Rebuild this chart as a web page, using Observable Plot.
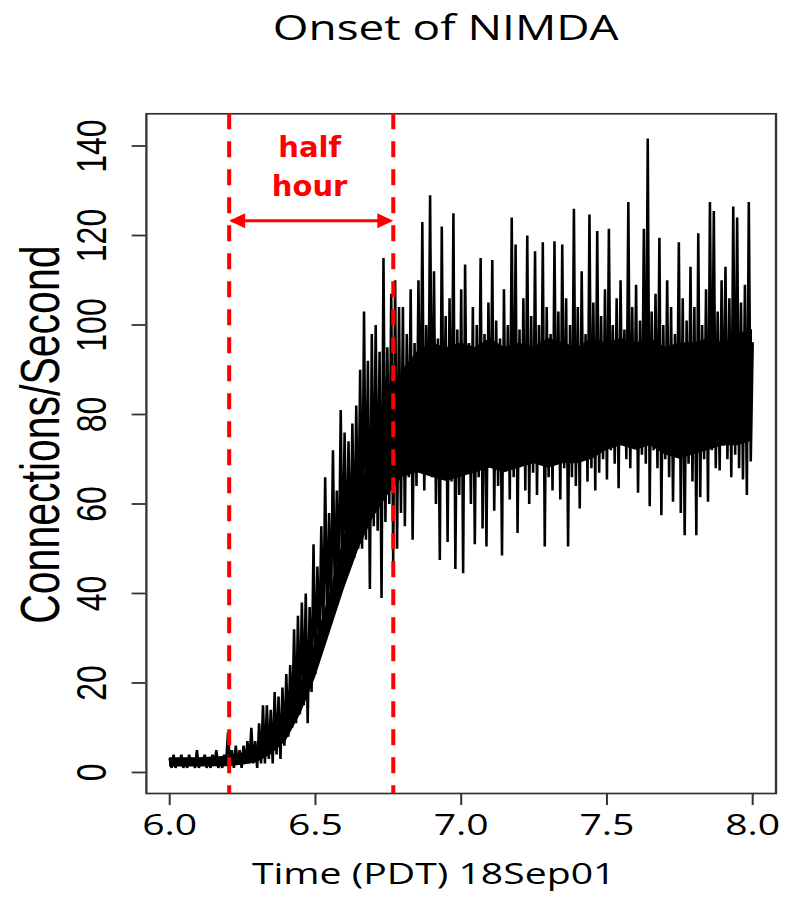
<!DOCTYPE html>
<html>
<head>
<meta charset="utf-8">
<script src="https://cdn.jsdelivr.net/npm/d3@7"></script>
<script src="https://cdn.jsdelivr.net/npm/@observablehq/plot@0.6"></script>
<style>
  html, body { margin: 0; padding: 0; background: #fff; }
  #chart { width: 786px; height: 899px; overflow: hidden; }
</style>
</head>
<body>
<div id="chart"></div>
<script>
// ---------------- data ----------------
const titleText = "Onset of NIMDA";
const xTitle = "Time (PDT) 18Sep01";
const yTitle = "Connections/Second";

const xTicks = [6.0, 6.5, 7.0, 7.5, 8.0];
const xLabels = ["6.0", "6.5", "7.0", "7.5", "8.0"];
const yTicks = [0, 20, 40, 60, 80, 100, 120, 140];
const yLabels = ["0", "20", "40", "60", "80", "100", "120", "140"];

// sampling grid of the series (hours, PDT)
const tStart = 6.0;
const tStep = 1 / 150;

// connections per second (one value per grid step)
const connections = [
  3, 1, 4, 1, 3, 2, 4, 1, 3, 1,
  4, 2, 3, 1, 5, 1, 3, 2, 4, 1,
  3, 1, 4, 2, 5, 1, 3, 1, 4, 2,
  9, 2, 5, 1, 6, 2, 5, 1, 6, 2,
  7, 2, 10, 2, 7, 1, 11, 2, 15, 2,
  15, 3, 14, 2, 18, 4, 17, 3, 19, 6,
  22, 8, 24, 10, 32, 11, 35, 13, 38, 15,
  40, 11, 37, 18, 51, 22, 46, 28, 55, 30,
  66, 32, 58, 35, 72, 38, 63, 40, 81, 42,
  76, 45, 74, 47, 78, 48, 82, 50, 90, 50,
  103, 52, 92, 41, 98, 55, 100, 54, 94, 39,
  115, 56, 95, 60, 107, 47, 110, 50, 104, 58,
  104, 55, 98, 66, 108, 52, 96, 64, 110, 68,
  123, 63, 100, 70, 129, 66, 112, 60, 97, 47.5,
  122, 68, 102, 51.5, 106, 65, 125, 45.5, 99, 62,
  108, 44.5, 113.5, 67, 96, 60, 104, 51, 100, 66,
  115, 54.5, 98, 50.5, 105, 70, 114.5, 58.5, 101, 64,
  97, 48.5, 108, 68, 100, 61, 124, 66, 118, 53.5,
  99, 70, 106, 63, 120, 60, 102, 67, 116.5, 62,
  100, 69, 118.5, 50.5, 104, 66, 98, 63, 118.7, 70,
  103, 61, 118, 68, 106, 50.5, 100, 66, 126, 64,
  104, 59, 112, 70, 98, 65, 124.7, 68, 105, 63,
  121, 67, 102, 70, 108, 65.5, 121.5, 72, 100, 69,
  106, 63.5, 110, 74, 99, 70, 127.5, 68, 104, 73,
  109, 62.5, 101, 71, 121.5, 69, 141.7, 59.5, 103, 72,
  107, 68, 119.5, 57.5, 100, 70, 110, 66, 104, 60.5,
  98, 71, 118.5, 58, 106, 53, 101, 69, 113, 65,
  104, 53, 120.5, 61.5, 100, 70, 108, 60.5, 127.5, 72,
  125.5, 68, 103, 67.5, 110, 73, 113, 70, 106, 66,
  126.5, 71, 124, 68, 105, 65.5, 109, 62, 127.5, 69.5,
  96
];

// solid core of the trace (where the dense line fills in completely)
const coreT  = [6.0, 6.1, 6.2, 6.25, 6.3, 6.35, 6.4, 6.45, 6.5, 6.55, 6.6, 6.65, 6.7, 6.75,
                6.8, 6.85, 6.9, 6.95, 7.0, 7.05, 7.1, 7.15, 7.2, 7.25, 7.3, 7.35, 7.4, 7.45,
                7.5, 7.55, 7.6, 7.65, 7.7, 7.75, 7.8, 7.85, 7.9, 7.95, 8.0];
const coreLo = [1.2, 1.2, 1.3, 1.6, 2.2, 4, 7, 13, 21, 31, 41, 50, 57, 62,
                66, 67, 66, 65, 66, 67, 68, 67, 68, 69, 68, 69, 69, 70,
                72, 73, 72, 73, 71, 70, 71, 72, 73, 73, 74];
const coreHi = [3.3, 3.3, 3.6, 4.3, 5.5, 8, 13, 20, 29, 40, 53, 63, 72, 80,
                90, 94, 96, 95, 96, 95, 97, 95, 96, 95, 97, 96, 95, 97,
                96, 97, 96, 97, 95, 96, 96, 97, 96, 98, 99];

// annotation: the "half hour" window
const windowEdges = [6.204, 6.767];
const arrowLevel = [123.3];
const noteLines = ["half", "hour"];
const noteX = 6.48;
const noteY = [139.7, 131.0];

// ---------------- build ----------------
const series = connections.map((v, i) => ({t: tStart + i * tStep, v}));
const core = coreT.map((t, i) => ({t, lo: coreLo[i], hi: coreHi[i]}));

// The reference picture is stretched horizontally; draw in a narrower
// coordinate system and let the SVG viewBox stretch it to 786 px.
const W = 582, H = 899, K = 786 / W;

const headLen = 16 / K, headHalf = 7.5;
const headRight = {draw(ctx) { ctx.moveTo(0, 0); ctx.lineTo(-headLen, -headHalf); ctx.lineTo(-headLen, headHalf); ctx.closePath(); }};
const headLeft = {draw(ctx) { ctx.moveTo(0, 0); ctx.lineTo(headLen, -headHalf); ctx.lineTo(headLen, headHalf); ctx.closePath(); }};

const svg = Plot.plot({
  width: W,
  height: H,
  marginLeft: 107.9,
  marginRight: 7.9,
  marginTop: 113.3,
  marginBottom: 106,
  x: {domain: [5.92, 8.08]},
  y: {domain: [-4.7, 147.2]},
  marks: [
    Plot.areaY(core, {x: "t", y1: "lo", y2: "hi", fill: "#000", curve: "linear"}),
    Plot.line(series, {x: "t", y: "v", stroke: "#000", strokeWidth: 1.9, strokeLinejoin: "miter"}),
    Plot.frame({stroke: "#333", strokeWidth: 1.7}),
    Plot.axisY(yTicks, {tickSize: 10.4, fill: "none", stroke: "#333", strokeWidth: 1.8}),
    Plot.axisX(xTicks, {tickSize: 12, fill: "none", stroke: "#333", strokeWidth: 1.5}),
    Plot.text(yTicks, {y: d => d, text: (d, i) => yLabels[i], frameAnchor: "left", dx: -40, rotate: -90,
      textAnchor: "middle", lineAnchor: "middle",
      fontFamily: "Liberation Sans", fontSize: 32, fill: "#000"}),
    Plot.text(xTicks, {x: d => d, text: (d, i) => xLabels[i], frameAnchor: "bottom", dy: 32.5,
      textAnchor: "middle", lineAnchor: "middle",
      fontFamily: "Open Sans", fontSize: 29, fill: "#000"}),
    Plot.text([xTitle], {text: d => d, frameAnchor: "bottom", dx: -20.4, dy: 81.5,
      textAnchor: "middle", lineAnchor: "middle",
      fontFamily: "Open Sans", fontSize: 29, fill: "#000"}),
    Plot.text([yTitle], {text: d => d, frameAnchor: "left", dx: -77.5, dy: -19, rotate: -90,
      textAnchor: "middle", lineAnchor: "middle",
      fontFamily: "Liberation Sans", fontSize: 41, fill: "#000"}),
    Plot.text([titleText], {text: d => d, frameAnchor: "top", dx: -11.5, dy: -84.6,
      textAnchor: "middle", lineAnchor: "middle",
      fontFamily: "Open Sans", fontSize: 34, fill: "#000"}),
    // annotation
    Plot.ruleX(windowEdges, {x: d => d, stroke: "#ff0000", strokeWidth: 3, strokeDasharray: "16,12"}),
    Plot.ruleY(arrowLevel, {y: d => d, x1: windowEdges[0] + 0.01, x2: windowEdges[1] - 0.01, stroke: "#ff0000", strokeWidth: 3}),
    Plot.dot([windowEdges[0]], {x: d => d, y: arrowLevel[0], r: 6, symbol: headLeft, fill: "#ff0000", stroke: "none"}),
    Plot.dot([windowEdges[1]], {x: d => d, y: arrowLevel[0], r: 6, symbol: headRight, fill: "#ff0000", stroke: "none"}),
    Plot.text(noteLines, {x: noteX, y: (d, i) => noteY[i], text: d => d,
      textAnchor: "middle", lineAnchor: "middle",
      fontFamily: "DejaVu Sans", fontWeight: "bold", fontSize: 29, fill: "#ff0000"})
  ]
});

svg.setAttribute("viewBox", `0 0 ${W} ${H}`);
svg.setAttribute("preserveAspectRatio", "none");
svg.setAttribute("width", 786);
svg.setAttribute("height", H);
svg.style.width = "786px";
svg.style.height = H + "px";
svg.style.maxWidth = "none";

// the red annotation text was not stretched in the reference
for (const t of svg.querySelectorAll("text")) {
  if (noteLines.includes(t.textContent)) {
    const x = +t.getAttribute("x") || 0;
    const tr = t.getAttribute("transform") || "";
    t.setAttribute("transform", `${tr} translate(${x},0) scale(${1 / K},1) translate(${-x},0)`);
  }
}

document.getElementById("chart").appendChild(svg);
</script>
</body>
</html>
